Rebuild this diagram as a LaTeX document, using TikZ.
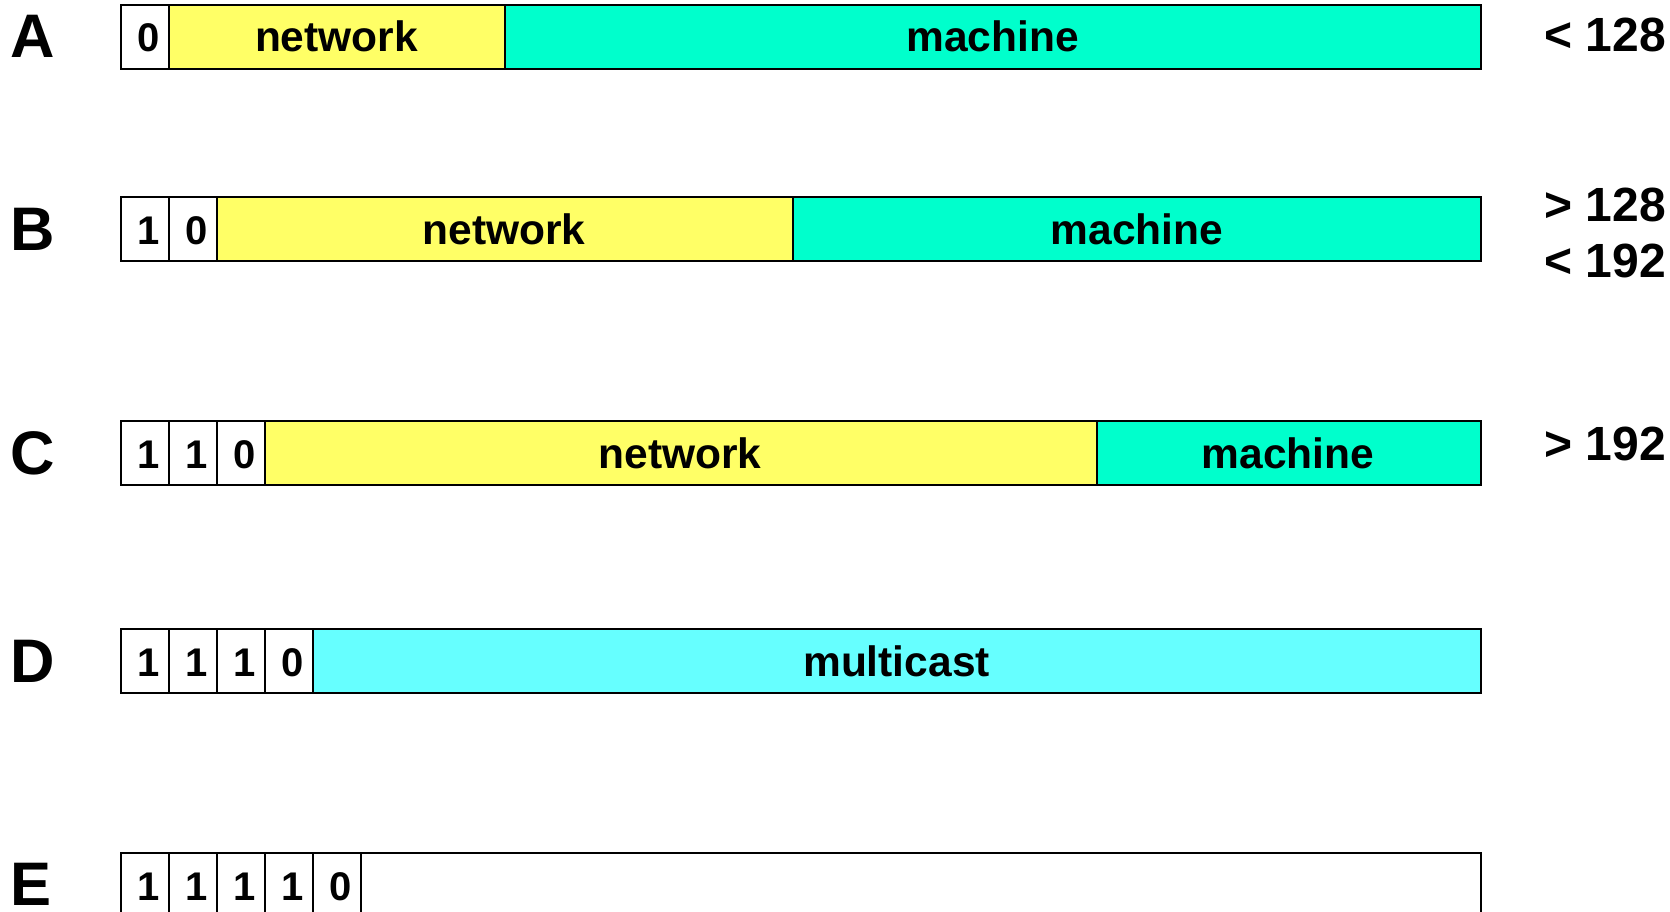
\documentclass[tikz,border=0pt]{standalone}
\usepackage{fontspec}
\setmainfont{Liberation Sans}
\definecolor{netyellow}{HTML}{FFFF66}
\definecolor{hostteal}{HTML}{00FFCC}
\definecolor{mcastcyan}{HTML}{66FFFF}
\tikzset{
  field/.style={draw=black, line width=2pt, rectangle, inner sep=0pt, outer sep=0pt,
                minimum height=64pt, anchor=north west},
  bitcell/.style={field, fill=white, minimum width=48.1pt},
  bitlbl/.style={font=\fontsize{40}{48}\selectfont\bfseries, anchor=base, inner sep=0pt},
  wordlbl/.style={font=\fontsize{42.5}{50}\selectfont\bfseries, anchor=base, inner sep=0pt},
  classlbl/.style={font=\fontsize{61.5}{70}\selectfont\bfseries, anchor=base west, inner sep=0pt},
  rangelbl/.style={font=\fontsize{48}{55}\selectfont\bfseries, anchor=base east, inner sep=0pt},
}
\begin{document}
\begin{tikzpicture}[x=1pt,y=-1pt]
\useasboundingbox (0,0) rectangle (1670,912);
\clip (0,0) rectangle (1670,912);

% ---- class A ----
\node[bitcell] (a0) at (120.5,5) {};
\node[field, fill=netyellow, minimum width=336.1pt] (anet) at (168.6,5) {};
\node[field, fill=hostteal, minimum width=976.3pt] (ahost) at (504.7,5) {};
\node[bitlbl] (a0t) at (148.5,52) {0};
\node[wordlbl] (anett) at (336.5,52) {network};
\node[wordlbl] (ahostt) at (992.5,52) {machine};
\node[classlbl] (aname) at (10,57.5) {A};
\node[rangelbl] (arange) at (1666,52) {< 128};

% ---- class B ----
\foreach \i in {0,1} \node[bitcell] (b\i) at (120.5+48.1*\i,197) {};
\node[field, fill=netyellow, minimum width=576.3pt] (bnet) at (216.7,197) {};
\node[field, fill=hostteal, minimum width=688pt] (bhost) at (793,197) {};
\node[bitlbl] (b0t) at (148.5,244) {1};
\node[bitlbl] (b1t) at (196.6,244) {0};
\node[wordlbl] (bnett) at (504,244) {network};
\node[wordlbl] (bhostt) at (1137,244) {machine};
\node[classlbl] (bname) at (10,250) {B};
\node[rangelbl] (brange1) at (1666,222) {> 128};
\node[rangelbl] (brange2) at (1666,277) {< 192};

% ---- class C ----
\foreach \i in {0,1,2} \node[bitcell] (c\i) at (120.5+48.1*\i,421) {};
\node[field, fill=netyellow, minimum width=832.2pt] (cnet) at (264.8,421) {};
\node[field, fill=hostteal, minimum width=384pt] (chost) at (1097,421) {};
\node[bitlbl] (c0t) at (148.5,468) {1};
\node[bitlbl] (c1t) at (196.6,468) {1};
\node[bitlbl] (c2t) at (244.7,468) {0};
\node[wordlbl] (cnett) at (680,468) {network};
\node[wordlbl] (chostt) at (1288,468) {machine};
\node[classlbl] (cname) at (10,474) {C};
\node[rangelbl] (crange) at (1666,460) {> 192};

% ---- class D ----
\foreach \i in {0,1,2,3} \node[bitcell] (d\i) at (120.5+48.1*\i,629) {};
\node[field, fill=mcastcyan, minimum width=1168.1pt] (dgrp) at (312.9,629) {};
\node[bitlbl] (d0t) at (148.5,676) {1};
\node[bitlbl] (d1t) at (196.6,676) {1};
\node[bitlbl] (d2t) at (244.7,676) {1};
\node[bitlbl] (d3t) at (292.8,676) {0};
\node[wordlbl] (dgrpt) at (896.5,676) {multicast};
\node[classlbl] (dname) at (10,682) {D};

% ---- class E (runs past the lower edge) ----
\foreach \i in {0,...,4} \node[bitcell, minimum height=100pt] (e\i) at (120.5+48.1*\i,853) {};
\node[field, fill=white, minimum height=100pt, minimum width=1120pt] (erest) at (361,853) {};
\node[bitlbl] (e0t) at (148.5,900) {1};
\node[bitlbl] (e1t) at (196.6,900) {1};
\node[bitlbl] (e2t) at (244.7,900) {1};
\node[bitlbl] (e3t) at (292.8,900) {1};
\node[bitlbl] (e4t) at (340.9,900) {0};
\node[classlbl] (ename) at (10,905) {E};
\end{tikzpicture}
\end{document}
